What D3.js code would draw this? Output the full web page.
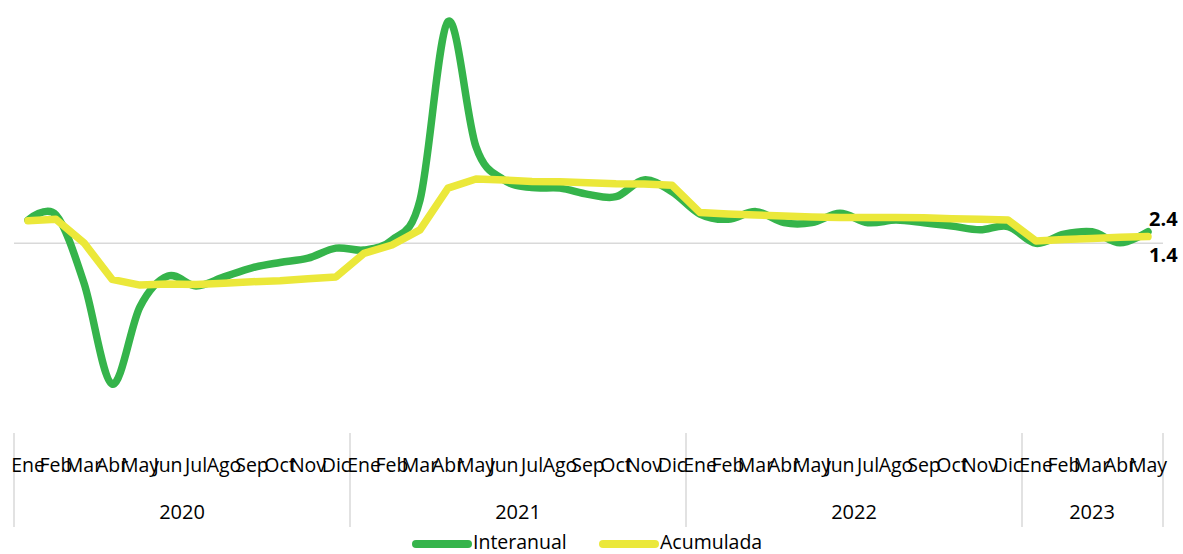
<!DOCTYPE html>
<html>
<head>
<meta charset="utf-8">
<script src="https://cdn.jsdelivr.net/npm/d3@7"></script>
<style>
  html, body { margin: 0; padding: 0; background: #ffffff; }
  svg { display: block; }
  text { font-family: "Open Sans", "Liberation Sans", sans-serif; fill: #000; }
</style>
</head>
<body>
<svg id="chart" width="1183" height="554"></svg>
<script>
// ---- Data ----
const monthNames = ["Ene","Feb","Mar","Abr","May","Jun","Jul","Ago","Sep","Oct","Nov","Dic"];
const years = ["2020","2021","2022","2023"];
const monthsPerYear = [12, 12, 12, 5];

const interanual = [
  4.85, 5.9, -8.3, -29.3, -13.2, -6.8, -8.9, -7.0, -5.1, -4.0, -3.1, -1.0,
  -1.4, 0.7, 9.0, 46.2, 20.1, 13.2, 11.6, 11.5, 10.2, 9.7, 13.2, 10.75,
  6.1, 5.0, 6.6, 4.3, 4.3, 6.25, 4.3, 4.85, 4.3, 3.6, 2.8, 3.5,
  0.0, 1.9, 2.4, 0.1, 2.4
];
const acumulada = [
  4.7, 5.0, 0.1, -7.5, -8.7, -8.5, -8.6, -8.3, -8.0, -7.8, -7.4, -7.0,
  -2.1, -0.35, 2.8, 11.5, 13.4, 13.2, 12.9, 12.8, 12.6, 12.4, 12.35, 12.1,
  6.4, 6.1, 5.9, 5.7, 5.5, 5.4, 5.4, 5.4, 5.3, 5.1, 5.0, 4.85,
  0.5, 0.8, 1.0, 1.25, 1.4
];
const seriesNames = ["Interanual", "Acumulada"];
const endLabels = ["2.4", "1.4"];

// ---- Build categories ----
const cats = [];
years.forEach((y, yi) => {
  for (let m = 0; m < monthsPerYear[yi]; m++) {
    cats.push({ key: y + "-" + m, month: monthNames[m], year: y });
  }
});

const svg = d3.select("#chart");
const colors = { Interanual: "#35b44b", Acumulada: "#ebe83a" };

const x = d3.scaleBand().domain(cats.map(c => c.key)).range([14, 1162]).padding(0);
const y = d3.scaleLinear().domain([-40, 50]).range([435.3, 3.3]);
const cx = k => x(k) + x.bandwidth() / 2;

// zero gridline
svg.append("line")
  .attr("x1", 14).attr("x2", 1163)
  .attr("y1", y(0)).attr("y2", y(0))
  .attr("stroke", "#d9d9d9").attr("stroke-width", 1.5);

// year separators
const sepXs = [];
let idx = 0;
years.forEach((yr, yi) => {
  sepXs.push(x(cats[idx].key));
  idx += monthsPerYear[yi];
});
sepXs.push(x.range()[1] + 1);
svg.selectAll("line.sep").data(sepXs).enter().append("line")
  .attr("class", "sep")
  .attr("x1", d => d).attr("x2", d => d)
  .attr("y1", 433).attr("y2", 527)
  .attr("stroke", "#d9d9d9").attr("stroke-width", 1.5);

// month axis
const axis = d3.axisBottom(x)
  .tickSize(0)
  .tickPadding(0)
  .tickFormat(k => cats.find(c => c.key === k).month);
const gAxis = svg.append("g").call(axis);
gAxis.select(".domain").remove();
gAxis.selectAll("text")
  .attr("y", 472).attr("dy", null)
  .style("font-family", "'Open Sans', sans-serif")
  .style("font-size", "19.5px")
  .attr("fill", "#000");

// year labels
idx = 0;
years.forEach((yr, yi) => {
  const start = x(cats[idx].key);
  const end = x(cats[idx + monthsPerYear[yi] - 1].key) + x.bandwidth();
  svg.append("text")
    .attr("x", (start + end) / 2).attr("y", 519)
    .attr("text-anchor", "middle")
    .style("font-size", "20px")
    .text(yr);
  idx += monthsPerYear[yi];
});

// lines
const lineSmooth = d3.line()
  .x((d, i) => cx(cats[i].key))
  .y(d => y(d))
  .curve(d3.curveCardinal.tension(0));
const lineStraight = d3.line()
  .x((d, i) => cx(cats[i].key))
  .y(d => y(d));

svg.append("path").datum(interanual)
  .attr("d", lineSmooth)
  .attr("fill", "none").attr("stroke", colors.Interanual)
  .attr("stroke-width", 7.5).attr("stroke-linejoin", "round").attr("stroke-linecap", "round");

svg.append("path").datum(acumulada)
  .attr("d", lineStraight)
  .attr("fill", "none").attr("stroke", colors.Acumulada)
  .attr("stroke-width", 7.5).attr("stroke-linejoin", "round").attr("stroke-linecap", "round");

// end labels
const lastKey = cats[cats.length - 1].key;
svg.append("text")
  .attr("x", cx(lastKey) + 1).attr("y", y(interanual[interanual.length - 1]) - 6)
  .style("font-size", "20px").style("font-weight", "bold")
  .text(endLabels[0]);
svg.append("text")
  .attr("x", cx(lastKey) + 1).attr("y", y(acumulada[acumulada.length - 1]) + 25)
  .style("font-size", "20px").style("font-weight", "bold")
  .text(endLabels[1]);

// legend
const legend = [
  { name: seriesNames[0], x0: 416, x1: 468, tx: 473 },
  { name: seriesNames[1], x0: 603, x1: 655, tx: 660 }
];
legend.forEach(l => {
  svg.append("line")
    .attr("x1", l.x0).attr("x2", l.x1).attr("y1", 544).attr("y2", 544)
    .attr("stroke", colors[l.name]).attr("stroke-width", 8).attr("stroke-linecap", "round");
  svg.append("text")
    .attr("x", l.tx).attr("y", 548.5)
    .style("font-size", "19.5px")
    .text(l.name);
});
</script>
</body>
</html>
